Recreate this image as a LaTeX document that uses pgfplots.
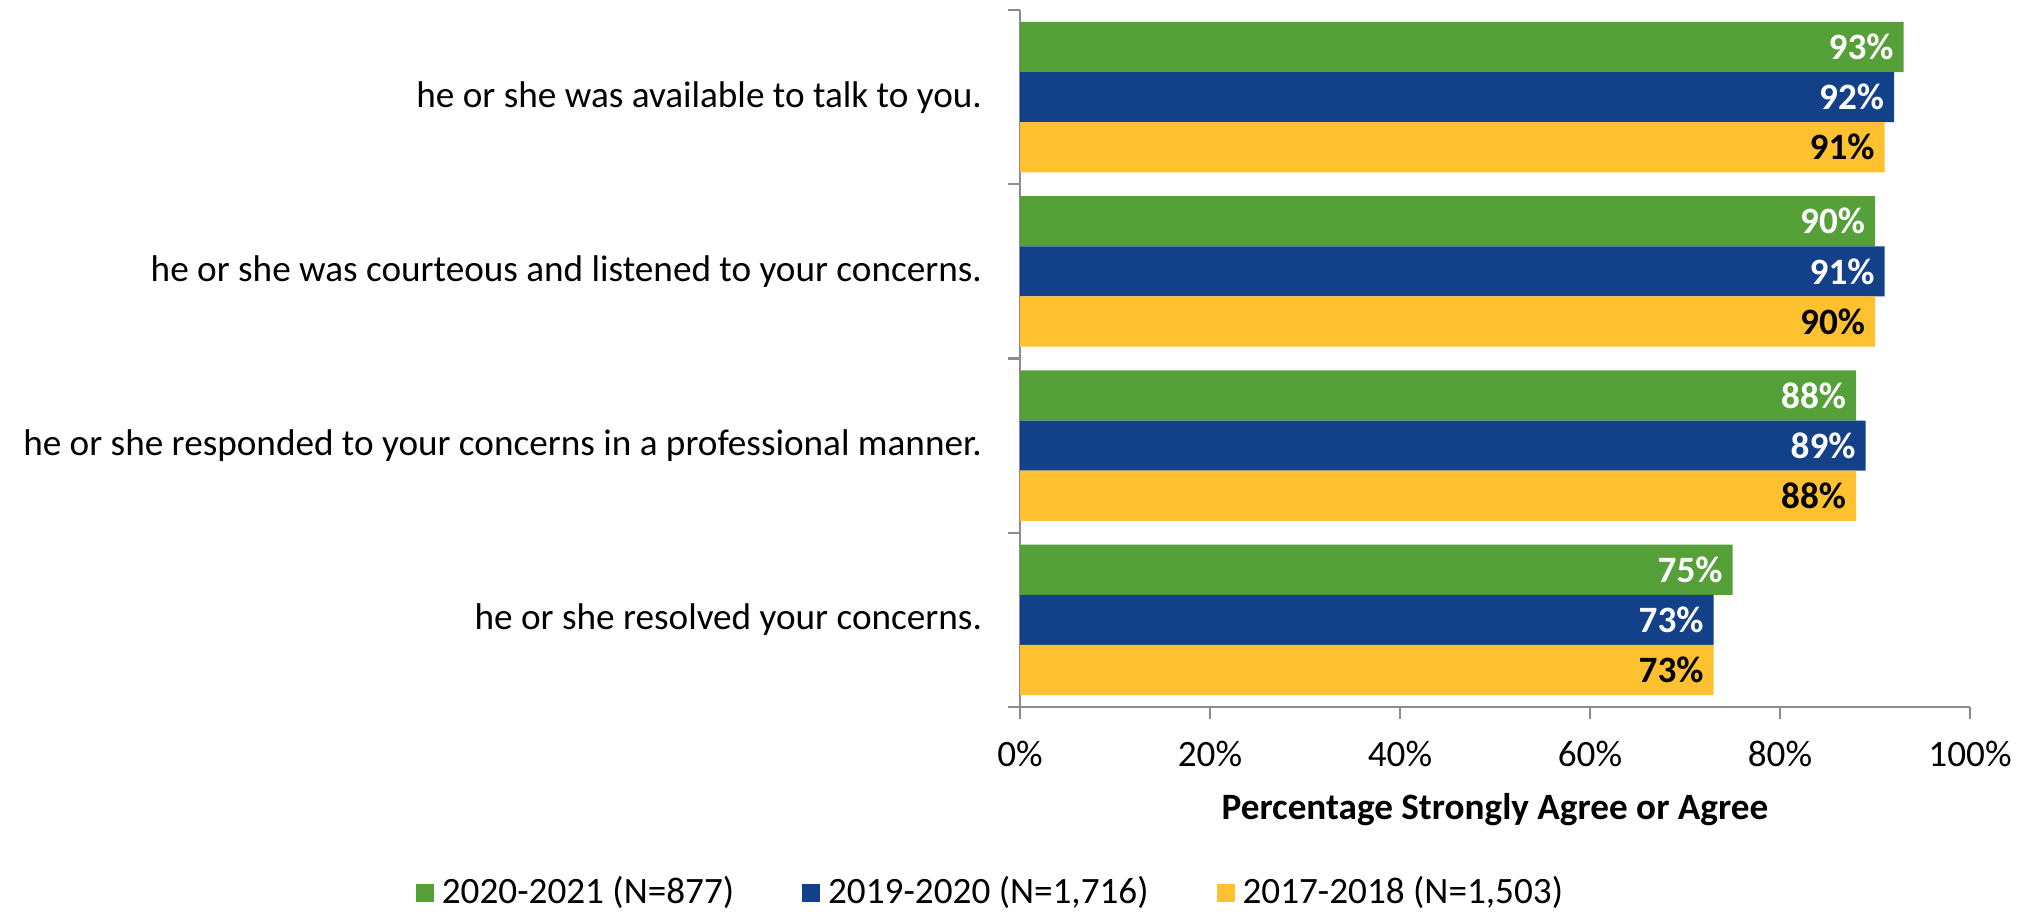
\documentclass[border=0pt]{standalone}
\usepackage{fontspec}
\setmainfont{Carlito}
\usepackage{pgfplots}
\pgfplotsset{compat=1.18}

\definecolor{cgreen}{HTML}{55A038}
\definecolor{cblue}{HTML}{134189}
\definecolor{cyellow}{HTML}{FFC12F}
\definecolor{axgray}{HTML}{8C8C8C}

\begin{document}
\begin{tikzpicture}[font=\fontsize{9.3}{11}\selectfont]
\useasboundingbox (0pt,0pt) rectangle (507.5pt,-227.75pt);
\begin{axis}[
    at={(255pt,-176.75pt)}, anchor=south west,
    scale only axis,
    width=237.5pt, height=174.25pt,
    xbar, bar width=0.288,
    xmin=0, xmax=100,
    ymin=-0.5, ymax=3.5, y dir=reverse,
    axis x line*=bottom, axis y line*=left,
    axis line style={axgray, line width=0.6pt},
    xtick={0,20,40,60,80,100},
    xticklabels={0\%,20\%,40\%,60\%,80\%,100\%},
    ytick={0,1,2,3},
    yticklabels={he or she was available to talk to you.,
                 he or she was courteous and listened to your concerns.,
                 he or she responded to your concerns in a professional manner.,
                 he or she resolved your concerns.},
    major y tick style={draw=none},
    minor ytick={-0.5,0.5,1.5,2.5,3.5},
    tick align=outside,
    major tick length=3pt, minor tick length=3pt,
    tick style={axgray, line width=0.6pt},
    yticklabel style={xshift=-3pt},
    xticklabel style={yshift=-2pt},
    xlabel={\textbf{Percentage Strongly Agree or Agree}},
    xlabel style={yshift=0.3pt},
    point meta=x,
    nodes near coords={\textbf{\pgfmathprintnumber[assume math mode=true]{\pgfplotspointmeta}\%}},
    nodes near coords style={anchor=east, xshift=-2.3pt, inner sep=0pt, font=\fontsize{9.3}{11}\selectfont},
    legend columns=3,
    legend style={at={(-0.028,-0.267)}, anchor=center, draw=none, fill=none,
        /tikz/every even column/.append style={column sep=15pt},
        font=\fontsize{9.3}{11}\selectfont, inner sep=0pt},
    legend image code/.code={\fill[#1,draw=none] (0pt,-2.25pt) rectangle (4.5pt,2.25pt);},
]
\addplot[fill=cgreen, draw=none, bar shift=-0.288,
    every node near coord/.append style={text=white}]
    coordinates {(93,0) (90,1) (88,2) (75,3)};
\addplot[fill=cblue, draw=none, bar shift=0,
    every node near coord/.append style={text=white}]
    coordinates {(92,0) (91,1) (89,2) (73,3)};
\addplot[fill=cyellow, draw=none, bar shift=0.288,
    every node near coord/.append style={text=black}]
    coordinates {(91,0) (90,1) (88,2) (73,3)};
\legend{2020-2021 (N=877), {2019-2020 (N=1,716)}, {2017-2018 (N=1,503)}}
\end{axis}
\end{tikzpicture}
\end{document}
